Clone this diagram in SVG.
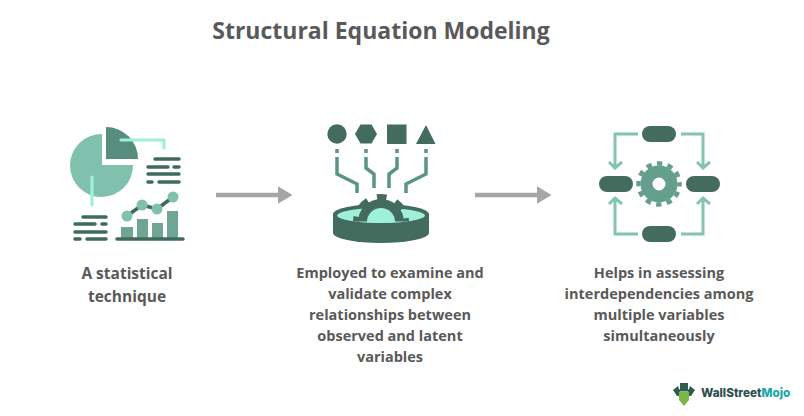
<svg xmlns="http://www.w3.org/2000/svg" width="804" height="416" viewBox="0 0 804 416">
<style>
text{font-family:"Open Sans","Liberation Sans",sans-serif;font-weight:700;fill:#595959;text-anchor:middle}
.title{font-size:23px}
.lab{font-size:14.5px}
.lab1{font-size:15.500px}
.bar{stroke:#3f6b5e;stroke-width:3.5;stroke-linecap:round;fill:none}
.cy{stroke:#9ff0d9;stroke-width:3.2;stroke-linecap:round;fill:none}
.dk{fill:#436b5e}
.lt{fill:#80c1ae}
.wire{stroke:#5a9485;stroke-width:3.5;fill:none}
.flow{stroke:#83c4b0;stroke-width:3;fill:none}
.pill{fill:#436b5e}
.conn{stroke:#a6a6a6;stroke-width:4.5;fill:none}
</style>
<defs>
<marker id="ah" markerUnits="userSpaceOnUse" markerWidth="16" markerHeight="18" refX="0.500" refY="9" orient="auto"><path d="M0 0L15 9L0 18z" fill="#a6a6a6"/></marker>
<clipPath id="gc"><rect x="340" y="185" width="82" height="36.5"/></clipPath>
</defs>
<rect width="804" height="416" fill="#fff"/>
<text id="title" class="title" x="381" y="39">Structural Equation Modeling</text>
<g id="connectors">
<path class="conn" d="M216 195H278" marker-end="url(#ah)"/>
<path class="conn" d="M475 195H537" marker-end="url(#ah)"/>
</g>
<g id="node-statistical">
<path class="lt" d="M102 134V165H133A31.500 31.500 0 1 1 102 134z"/>
<path d="M106 127A32 32 0 0 1 138 159H106z" fill="#578d7d"/>
<path class="cy" d="M121 140H164V148M92 177V205"/>
<path class="bar" d="M155 159H179M148 167H168M174 167H179M148 174H179M148 182H152M159 182H179M83 217H106M75 224H95M102 224H106M75 232H106M75 239H80M87 239H106"/>
<g fill="#6fa594"><rect x="121" y="227" width="12" height="12"/><rect x="137" y="219" width="11" height="20"/><rect x="152" y="223" width="11" height="16"/><rect x="167" y="211" width="11" height="28"/></g>
<path class="bar" d="M117 239H183"/>
<path class="bar" d="M127 216L142 205L157 209L173 197"/>
<g class="lt"><circle cx="127" cy="216" r="5.500"/><circle cx="142" cy="205" r="5.500"/><circle cx="157" cy="209" r="5.500"/><circle cx="173" cy="197" r="5.500"/></g>
<text class="lab1" x="127" y="279">A statistical</text>
<text class="lab1" x="127" y="302">technique</text>
</g>
<g id="node-examine">
<circle class="dk" cx="337" cy="134" r="9.700"/>
<path class="dk" d="M355 134L360.500 124.500H371.500L377 134L371.500 143.500H360.500z"/>
<rect class="dk" x="387" y="124.500" width="19.500" height="19.500"/>
<path class="dk" d="M426 125L435.500 144H416z"/>
<path class="wire" d="M337 149V153M337 157V174L357 184V193M366 149V153M366 157V168L374 174V188M397 149V153M397 157V168L389 174V188M426 149V153M426 157V174L406 184V193"/>
<path class="dk" d="M333 214V233A48 10 0 0 0 429 233V214z"/>
<ellipse class="dk" cx="381" cy="214" rx="48" ry="10"/>
<ellipse cx="381" cy="215.500" rx="44" ry="7.500" fill="#9ff0d9"/>
<g clip-path="url(#gc)" fill="none" stroke="#436b5e">
<circle cx="381" cy="222" r="18.500" stroke-width="9"/>
<circle cx="381" cy="222" r="25" stroke-width="6" stroke-dasharray="9.817 9.817" stroke-dashoffset="4.909"/>
</g>
<text class="lab" x="390" y="278">Employed to examine and</text>
<text class="lab" x="390" y="299">validate complex</text>
<text class="lab" x="390" y="320">relationships between</text>
<text class="lab" x="390" y="341">observed and latent</text>
<text class="lab" x="390" y="362">variables</text>
</g>
<g id="node-helps">
<path class="flow" d="M638 134H615V167M609 162L615 168L622 162M681 134H703V167M697 162L703 168L710 162M638 234H615V199M609 204L615 198L622 204M681 234H703V199M697 204L703 198L710 204"/>
<rect class="pill" x="642" y="126" width="34" height="16" rx="8"/>
<rect class="pill" x="599" y="176" width="34" height="16" rx="8"/>
<rect class="pill" x="686" y="176" width="34" height="16" rx="8"/>
<rect class="pill" x="642" y="226" width="34" height="16" rx="8"/>
<g fill="none" stroke="#649e8d">
<circle cx="659" cy="184" r="12.500" stroke-width="12"/>
<circle cx="659" cy="184" r="20.500" stroke-width="4.500" stroke-dasharray="5.367 5.367" stroke-dashoffset="2.684"/>
</g>
<text class="lab" x="659" y="278">Helps in assessing</text>
<text class="lab" x="659" y="299">interdependencies among</text>
<text class="lab" x="659" y="320">multiple variables</text>
<text class="lab" x="659" y="341">simultaneously</text>
</g>
<g id="logo">
<rect x="680" y="383" width="8" height="7" fill="#2f5d50"/>
<rect x="677" y="389.500" width="14" height="2" fill="#2f5d50"/>
<path d="M673 390L678 386L680 392H688L690 386L695 390L691 396H677z" fill="#2f5d50"/>
<path d="M679 392H689V400L684 406L679 400z" fill="#7ab648"/>
<text x="701" y="397" style="font-family:Inter,'Liberation Sans',sans-serif;font-size:11.700px;text-anchor:start;fill:#2f4f4f;font-weight:800">WallStreet<tspan fill="#1aa6a6">Mojo</tspan></text>
</g>
</svg>
